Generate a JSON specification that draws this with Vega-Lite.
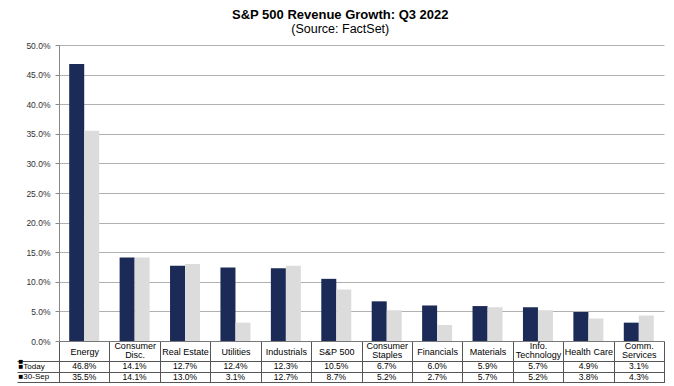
{
  "$schema": "https://vega.github.io/schema/vega-lite/v6.json",
  "padding": {"left": 16, "right": 12, "top": 8, "bottom": 3},
  "spacing": 20,
  "bounds": "flush",
  "config": {"font": "Liberation Sans"},
  "title": {
    "text": "S&P 500 Revenue Growth: Q3 2022",
    "subtitle": "(Source: FactSet)",
    "anchor": "middle",
    "frame": "bounds",
    "font": "Liberation Sans",
    "fontSize": 13,
    "fontWeight": "bold",
    "color": "#000",
    "subtitleFont": "Liberation Sans",
    "subtitleFontSize": 12.5,
    "subtitleColor": "#000",
    "subtitlePadding": 1,
    "offset": 6
  },
  "data": {
    "values": [
      {"sector": "Energy", "series": "Today", "value": 0.468},
      {"sector": "Energy", "series": "30-Sep", "value": 0.355},
      {"sector": "Consumer Disc.", "series": "Today", "value": 0.141},
      {"sector": "Consumer Disc.", "series": "30-Sep", "value": 0.141},
      {"sector": "Real Estate", "series": "Today", "value": 0.127},
      {"sector": "Real Estate", "series": "30-Sep", "value": 0.130},
      {"sector": "Utilities", "series": "Today", "value": 0.124},
      {"sector": "Utilities", "series": "30-Sep", "value": 0.031},
      {"sector": "Industrials", "series": "Today", "value": 0.123},
      {"sector": "Industrials", "series": "30-Sep", "value": 0.127},
      {"sector": "S&P 500", "series": "Today", "value": 0.105},
      {"sector": "S&P 500", "series": "30-Sep", "value": 0.087},
      {"sector": "Consumer Staples", "series": "Today", "value": 0.067},
      {"sector": "Consumer Staples", "series": "30-Sep", "value": 0.052},
      {"sector": "Financials", "series": "Today", "value": 0.060},
      {"sector": "Financials", "series": "30-Sep", "value": 0.027},
      {"sector": "Materials", "series": "Today", "value": 0.059},
      {"sector": "Materials", "series": "30-Sep", "value": 0.057},
      {"sector": "Info. Technology", "series": "Today", "value": 0.057},
      {"sector": "Info. Technology", "series": "30-Sep", "value": 0.052},
      {"sector": "Health Care", "series": "Today", "value": 0.049},
      {"sector": "Health Care", "series": "30-Sep", "value": 0.038},
      {"sector": "Comm. Services", "series": "Today", "value": 0.031},
      {"sector": "Comm. Services", "series": "30-Sep", "value": 0.043}
    ]
  },
  "vconcat": [
    {
      "width": 605,
      "height": 296,
      "view": {"stroke": null},
      "mark": {"type": "bar"},
      "encoding": {
        "x": {
          "field": "sector",
          "type": "nominal",
          "sort": ["Energy", "Consumer Disc.", "Real Estate", "Utilities", "Industrials", "S&P 500", "Consumer Staples", "Financials", "Materials", "Info. Technology", "Health Care", "Comm. Services"],
          "scale": {"paddingInner": 0, "paddingOuter": 0},
          "axis": {
            "title": null,
            "orient": "bottom",
            "domainColor": "#777",
            "tickBand": "extent",
            "tickSize": 20,
            "tickColor": "#555",
            "labelAngle": 0,
            "labelBaseline": "middle",
            "labelPadding": {"condition": {"test": "indexof(['Consumer Disc.','Consumer Staples','Info. Technology','Comm. Services'], datum.value) >= 0", "value": -15.5}, "value": -10},
            "labelFontSize": 9,
            "labelColor": "#000",
            "labelLineHeight": 9,
            "labelExpr": "indexof(['Real Estate','Health Care','S&P 500'], datum.label) >= 0 ? datum.label : split(datum.label, ' ')",
            "minExtent": 20,
            "maxExtent": 20
          }
        },
        "xOffset": {
          "field": "series",
          "type": "nominal",
          "sort": ["Today", "30-Sep"],
          "scale": {"paddingInner": 0, "paddingOuter": 0.68}
        },
        "y": {
          "field": "value",
          "type": "quantitative",
          "scale": {"domain": [0, 0.5]},
          "axis": {
            "title": null,
            "values": [0, 0.05, 0.1, 0.15, 0.2, 0.25, 0.3, 0.35, 0.4, 0.45, 0.5],
            "format": ".1%",
            "gridColor": "#b0b0b0",
            "domainColor": "#888",
            "tickColor": "#888",
            "tickSize": 4,
            "labelFontSize": 8.5,
            "labelColor": "#333",
            "labelPadding": 5,
            "minExtent": 41,
            "maxExtent": 41
          }
        },
        "color": {
          "field": "series",
          "type": "nominal",
          "scale": {"domain": ["Today", "30-Sep"], "range": ["#1b2a56", "#dcdcdc"]},
          "legend": null
        }
      }
    },
    {
      "width": 605,
      "height": 21,
      "view": {"stroke": "#555"},
      "mark": {"type": "text", "fontSize": 8.5, "color": "#000"},
      "encoding": {
        "x": {
          "field": "sector",
          "type": "nominal",
          "sort": ["Energy", "Consumer Disc.", "Real Estate", "Utilities", "Industrials", "S&P 500", "Consumer Staples", "Financials", "Materials", "Info. Technology", "Health Care", "Comm. Services"],
          "scale": {"paddingInner": 0, "paddingOuter": 0},
          "axis": {
            "title": null,
            "labels": false,
            "ticks": false,
            "domain": false,
            "grid": true,
            "tickBand": "extent",
            "gridColor": "#555",
            "minExtent": 0,
            "maxExtent": 0
          }
        },
        "y": {
          "field": "series",
          "type": "nominal",
          "sort": ["Today", "30-Sep"],
          "scale": {"paddingInner": 0, "paddingOuter": 0},
          "axis": {
            "title": null,
            "tickBand": "extent",
            "tickSize": 42,
            "tickColor": "#555",
            "domainColor": "#555",
            "grid": true,
            "gridColor": "#555",
            "labelAlign": "left",
            "labelPadding": -1,
            "labelFontSize": 8,
            "labelColor": "#000",
            "labelExpr": "'■' + datum.label",
            "minExtent": 41,
            "maxExtent": 41
          }
        },
        "text": {"field": "value", "type": "quantitative", "format": ".1%"}
      }
    }
  ]
}
